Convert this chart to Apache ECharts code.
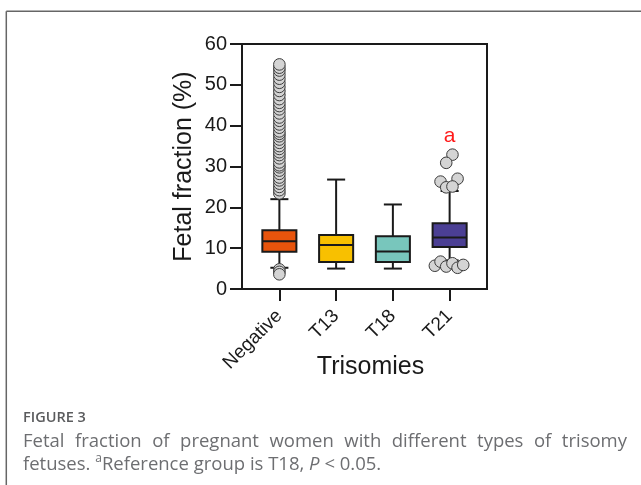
<!DOCTYPE html>
<html><head><meta charset="utf-8">
<script src="https://cdn.jsdelivr.net/npm/echarts@6/dist/echarts.min.js"></script>
<style>html,body{margin:0;padding:0;background:#fff}#c{width:641px;height:485px}</style>
</head><body><div id="c"></div>
<script>
// ---------- data ----------
const categories = ['Negative', 'T13', 'T18', 'T21'];
const whiskerLow  = [5.2, 5.0, 5.0, 7.0];
const q1          = [9.1, 6.6, 6.6, 10.3];
const median      = [11.7, 10.8, 9.2, 12.6];
const q3          = [14.4, 13.2, 12.9, 16.1];
const whiskerHigh = [22.0, 26.8, 20.7, 24.0];
const yTicks = [0, 10, 20, 30, 40, 50, 60];
const negativeOutliers = [23.4, 24.2, 25.0, 25.8, 26.6, 27.3, 28.2, 29.0, 29.8, 30.3, 31.0, 32.0,
  32.8, 33.5, 34.3, 35.0, 35.8, 36.6, 37.4, 38.0, 38.6, 39.5, 40.3, 41.2, 42.0, 43.0, 44.0, 44.8,
  45.6, 46.5, 47.5, 48.5, 49.5, 50.5, 51.5, 52.5, 53.5, 54.2, 55.0, 4.8, 4.2, 3.6];
const t21Outliers = [32.9, 30.9, 26.3, 27.0, 24.9, 25.1, 5.7, 6.7, 5.5, 6.3, 5.2, 5.9];
const t21Jitter   = [0.05, -0.06, -0.16, 0.14, -0.06, 0.05, -0.26, -0.16, -0.06, 0.05, 0.14, 0.24];
const annotations = [['T21', 37.4, 'a']];
const boxColors = ['#E8540C', '#F8C000', '#78C6BC', '#4B3F94'];
const xTitle = 'Trisomies';
const yTitle = 'Fetal fraction (%)';
const figLabel = 'FIGURE 3';
const captionLine1 = 'Fetal fraction of pregnant women with different types of trisomy';
const captionLine2 = [['fetuses. ', 'n'], ['a', 'sup'], ['Reference group is T18, ', 'n'], ['P', 'i'], [' < 0.05.', 'n']];

// ---------- build ----------
const INK = '#1a1a1a';
const boxData = categories.map((c, i) => [i, whiskerLow[i], q1[i], median[i], q3[i], whiskerHigh[i]]);
const outlierData = [];
negativeOutliers.forEach(v => outlierData.push([0, v, 0]));
t21Outliers.forEach((v, k) => outlierData.push([3, v, t21Jitter[k]]));
const annData = annotations.map(a => [categories.indexOf(a[0]), a[1], a[2]]);

function renderBox(params, api) {
  const i = api.value(0);
  const cx = api.coord([i, 0])[0];
  const band = api.size([1, 0])[0];
  const half = band * 0.30;
  const capHalf = half * 0.53;
  const y = k => api.coord([i, api.value(k)])[1];
  const yl = y(1), yq1 = y(2), ym = y(3), yq3 = y(4), yh = y(5);
  const ls = { stroke: INK, lineWidth: 2 };
  return { type: 'group', children: [
    { type: 'line', shape: { x1: cx, y1: yq1, x2: cx, y2: yl }, style: ls },
    { type: 'line', shape: { x1: cx - capHalf, y1: yl, x2: cx + capHalf, y2: yl }, style: ls },
    { type: 'line', shape: { x1: cx, y1: yq3, x2: cx, y2: yh }, style: ls },
    { type: 'line', shape: { x1: cx - capHalf, y1: yh, x2: cx + capHalf, y2: yh }, style: ls },
    { type: 'rect', shape: { x: cx - half, y: yq3, width: 2 * half, height: yq1 - yq3 },
      style: { fill: boxColors[i], stroke: INK, lineWidth: 2 } },
    { type: 'line', shape: { x1: cx - half, y1: ym, x2: cx + half, y2: ym }, style: ls }
  ]};
}
function renderOutlier(params, api) {
  const p = api.coord([api.value(0), api.value(1)]);
  const band = api.size([1, 0])[0];
  return { type: 'circle', shape: { cx: p[0] + api.value(2) * band, cy: p[1], r: 5.8 },
    style: { fill: '#d4d4d4', stroke: '#3a3a3a', lineWidth: 1 } };
}
function renderAnn(params, api) {
  const p = api.coord([api.value(0), api.value(1)]);
  return { type: 'text', x: p[0], y: p[1],
    style: { text: annData[params.dataIndex][2], fill: '#ff1a1a', font: '21px "Liberation Sans", Arial, sans-serif',
      align: 'center', verticalAlign: 'middle' } };
}

// caption layout
const cv = document.createElement('canvas').getContext('2d');
const capSize = 18.5;
const capFont = capSize + 'px "Open Sans", sans-serif';
const capColor = '#6d6e71';
const graphics = [];
graphics.push({ type: 'line', shape: { x1: 6.3, y1: 11.3, x2: 641, y2: 11.3 }, style: { stroke: '#666', lineWidth: 1.5 } });
graphics.push({ type: 'line', shape: { x1: 6.3, y1: 11.3, x2: 6.3, y2: 485 }, style: { stroke: '#666', lineWidth: 1.5 } });
graphics.push({ type: 'text', x: 23, y: 418, style: { text: figLabel, fill: '#5a5b5d',
  font: '600 14.5px "Open Sans", sans-serif', verticalAlign: 'middle' } });
(function () {
  cv.font = capFont;
  const words = captionLine1.split(' ');
  const widths = words.map(w => cv.measureText(w).width);
  const total = widths.reduce((a, b) => a + b, 0);
  const x0 = 23, x1 = 627;
  const gap = (x1 - x0 - total) / (words.length - 1);
  let x = x0;
  words.forEach((w, k) => {
    graphics.push({ type: 'text', x: x, y: 442, style: { text: w, fill: capColor, font: capFont, verticalAlign: 'middle' } });
    x += widths[k] + gap;
  });
  x = x0;
  captionLine2.forEach(([t, kind]) => {
    let f = capFont, yy = 465;
    if (kind === 'sup') { f = '12px "Open Sans", sans-serif'; yy = 459; }
    if (kind === 'i') { f = 'italic ' + capFont; }
    cv.font = f;
    graphics.push({ type: 'text', x: x, y: yy, style: { text: t, fill: capColor, font: f, verticalAlign: 'middle' } });
    x += cv.measureText(t).width;
  });
})();

const axisFont = '"Liberation Sans", Arial, sans-serif';
const chart = echarts.init(document.getElementById('c'));
chart.setOption({
  animation: false,
  backgroundColor: '#fff',
  grid: [
    { left: 242, top: 44, width: 245, height: 245, show: true, borderColor: INK, borderWidth: 2, outerBoundsMode: 'none', containLabel: false },
    { left: 251, top: 44, width: 227, height: 245, outerBoundsMode: 'none', containLabel: false }
  ],
  xAxis: [
    { gridIndex: 0, type: 'value', min: 0, max: 1,
      axisLine: { show: true, lineStyle: { color: INK, width: 2 } }, axisTick: { show: false },
      axisLabel: { show: false }, splitLine: { show: false },
      name: xTitle, nameLocation: 'middle', nameGap: 66, nameMoveOverlap: false,
      nameTextStyle: { fontSize: 25, color: INK, fontFamily: axisFont, padding: [0, 0, 0, 12] } },
    { gridIndex: 1, type: 'category', data: categories, boundaryGap: true,
      axisLine: { show: false },
      axisTick: { show: true, alignWithLabel: true, length: 12, lineStyle: { color: INK, width: 2 } },
      axisLabel: { rotate: 45, margin: 24, fontSize: 19, color: INK, fontFamily: axisFont, interval: 0 },
      splitLine: { show: false } }
  ],
  yAxis: [
    { gridIndex: 0, type: 'value', min: yTicks[0], max: yTicks[yTicks.length - 1], interval: yTicks[1] - yTicks[0],
      axisLine: { show: true, lineStyle: { color: INK, width: 2 } },
      axisTick: { show: true, length: 12, lineStyle: { color: INK, width: 2 } },
      axisLabel: { margin: 15, fontSize: 20, color: INK, fontFamily: axisFont },
      splitLine: { show: false },
      name: yTitle, nameLocation: 'middle', nameGap: 45, nameMoveOverlap: false,
      nameTextStyle: { fontSize: 25, color: INK, fontFamily: axisFont } },
    { gridIndex: 1, type: 'value', min: yTicks[0], max: yTicks[yTicks.length - 1], show: false }
  ],
  graphic: graphics,
  series: [
    { type: 'custom', xAxisIndex: 1, yAxisIndex: 1, data: boxData, renderItem: renderBox,
      encode: { x: 0, y: [1, 2, 3, 4, 5] }, clip: false, silent: true },
    { type: 'custom', xAxisIndex: 1, yAxisIndex: 1, data: outlierData, renderItem: renderOutlier,
      encode: { x: 0, y: 1 }, clip: false, silent: true },
    { type: 'custom', xAxisIndex: 1, yAxisIndex: 1, data: annData.map(a => [a[0], a[1]]), renderItem: renderAnn,
      encode: { x: 0, y: 1 }, clip: false, silent: true }
  ]
});
</script></body></html>
